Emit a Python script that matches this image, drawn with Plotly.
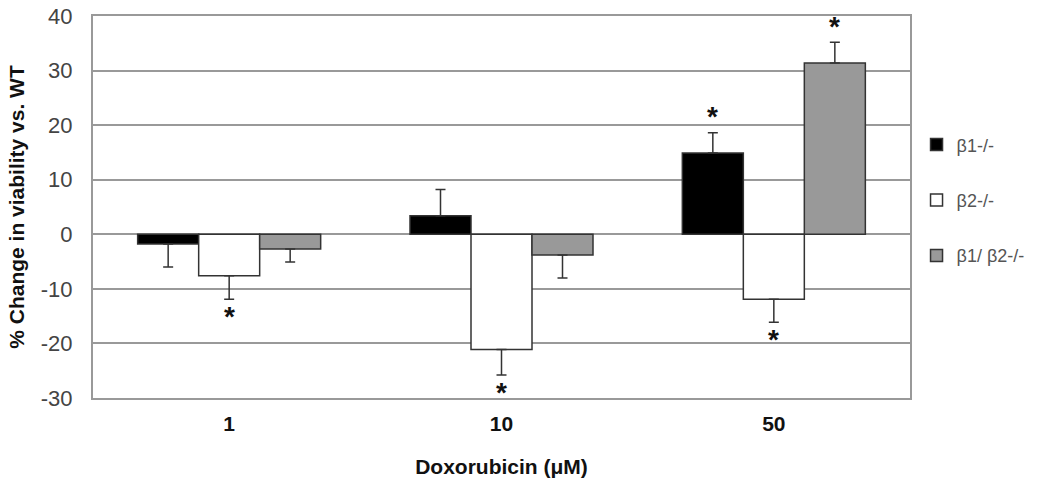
import plotly.graph_objects as go

categories = ["1", "10", "50"]
series_names = ["β1-/-", "β2-/-", "β1/ β2-/-"]
series_colors = ["#000000", "#ffffff", "#999999"]

b1_values = [-1.8, 3.4, 14.9]
b2_values = [-7.6, -21.1, -11.9]
b12_values = [-2.7, -3.8, 31.4]

b1_errors = [4.2, 4.8, 3.7]
b2_errors = [4.3, 4.7, 4.2]
b12_errors = [2.4, 4.2, 3.8]

b1_sig = [False, False, True]
b2_sig = [True, True, True]
b12_sig = [False, False, True]

y_ticks = [-30, -20, -10, 0, 10, 20, 30, 40]
y_tick_labels = ["-30", "-20", "-10", "0", "10", "20", "30", "40"]

values = [b1_values, b2_values, b12_values]
errors = [b1_errors, b2_errors, b12_errors]
sigs = [b1_sig, b2_sig, b12_sig]

BAR_W = 0.224
FONT = "Liberation Sans, Arial, sans-serif"

fig = go.Figure()
annotations = []
for j, name in enumerate(series_names):
    xs = [i + (j - 1) * BAR_W for i in range(len(categories))]
    vals = values[j]
    errs = errors[j]
    plus = [e if v >= 0 else 0 for v, e in zip(vals, errs)]
    minus = [e if v < 0 else 0 for v, e in zip(vals, errs)]
    fig.add_trace(go.Bar(
        x=xs, y=vals, width=BAR_W, name=name, legendgroup=name,
        marker=dict(color=series_colors[j], line=dict(color="#333333", width=1.5)),
        error_y=dict(type="data", symmetric=False, array=plus, arrayminus=minus,
                     color="#333333", thickness=1.5, width=5),
    ))
    for x, v, e, s in zip(xs, vals, errs, sigs[j]):
        if s:
            up = v >= 0
            annotations.append(dict(
                x=x, y=v + e if up else v - e, xref="x", yref="y",
                text="<b>*</b>", showarrow=False,
                yshift=16 if up else -17,
                font=dict(family=FONT, size=28, color="#111111"),
            ))

fig.update_layout(
    width=1050, height=488,
    margin=dict(l=93, r=140, t=16, b=90, autoexpand=False),
    paper_bgcolor="white", plot_bgcolor="white",
    barmode="overlay", hovermode=False,
    font=dict(family=FONT, color="#333333"),
    showlegend=True,
    legend=dict(x=1.008, y=0.711, xanchor="left", yanchor="top",
                font=dict(family=FONT, size=18, color="#555555"),
                tracegroupgap=29, traceorder="grouped",
                bgcolor="rgba(0,0,0,0)"),
    annotations=annotations,
)
fig.update_xaxes(
    range=[-0.5, 2.5], tickvals=list(range(len(categories))), ticktext=categories,
    tickfont=dict(family=FONT, size=21, color="#111111", weight="bold"),
    showgrid=False, zeroline=False, ticks="outside", ticklen=6, tickcolor="rgba(0,0,0,0)",
    showline=True, mirror=True, linecolor="#999999", linewidth=2, automargin=False,
    title=dict(text="Doxorubicin (μM)", font=dict(family=FONT, size=21, color="#111111", weight="bold"), standoff=25),
)
fig.update_yaxes(
    range=[-30, 40], tickvals=y_ticks, ticktext=y_tick_labels,
    tickfont=dict(family=FONT, size=22, color="#444444"),
    showgrid=True, gridcolor="#999999", gridwidth=1.5,
    zeroline=False, ticks="outside", ticklen=14, tickcolor="rgba(0,0,0,0)",
    showline=True, mirror=True, linecolor="#999999", linewidth=2, automargin=False,
    title=dict(text="% Change in viability vs. WT", font=dict(family=FONT, size=21, color="#111111", weight="bold"), standoff=10),
)

# remove the page's default body margin so the figure sits at the window's top-left corner
fig.write_html("out.html", config={"displayModeBar": False},
               post_script="document.body.style.margin='0';")
